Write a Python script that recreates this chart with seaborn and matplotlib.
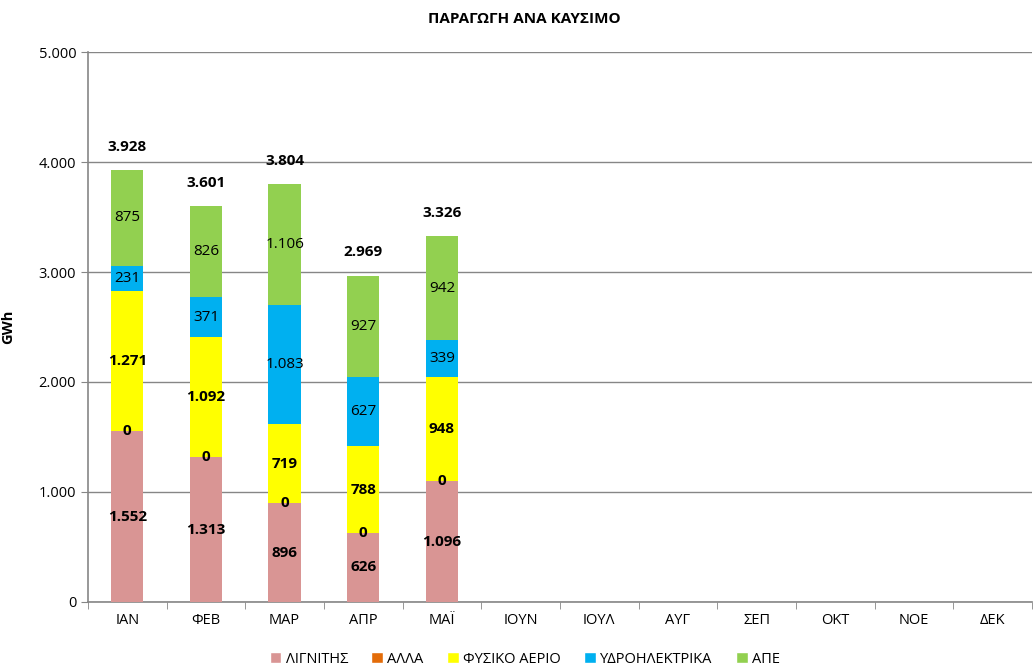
import numpy as np
import pandas as pd
import matplotlib
matplotlib.use('Agg')
import matplotlib.pyplot as plt
import seaborn as sns
from matplotlib.ticker import FuncFormatter, FixedLocator
from matplotlib.patches import Patch

# [1. 데이터]
months = ['ΙΑΝ', 'ΦΕΒ', 'ΜΑΡ', 'ΑΠΡ', 'ΜΑΪ', 'ΙΟΥΝ', 'ΙΟΥΛ', 'ΑΥΓ', 'ΣΕΠ', 'ΟΚΤ', 'ΝΟΕ', 'ΔΕΚ']
lignite = [1552, 1313, 896, 626, 1096]
other = [0, 0, 0, 0, 0]
gas = [1271, 1092, 719, 788, 948]
hydro = [231, 371, 1083, 627, 339]
res = [875, 826, 1106, 927, 942]
totals = [3928, 3601, 3804, 2969, 3326]

series_names = ['ΛΙΓΝΙΤΗΣ', 'ΑΛΛΑ', 'ΦΥΣΙΚΟ ΑΕΡΙΟ', 'ΥΔΡΟΗΛΕΚΤΡΙΚΑ', 'ΑΠΕ']
series_vals = [lignite, other, gas, hydro, res]
colors = ['#D99594', '#E36C09', '#FFFF00', '#00B0F0', '#92D050']
bold_labels = [True, True, True, False, False]

sns.set_style('white')
plt.rcParams['font.family'] = ['Open Sans', 'DejaVu Sans']
plt.rcParams['text.color'] = 'black'
plt.rcParams['axes.labelcolor'] = 'black'
plt.rcParams['xtick.labelcolor'] = 'black'
plt.rcParams['ytick.labelcolor'] = 'black'

fig = plt.figure(figsize=(10.35, 6.68), dpi=100)
ax = fig.add_axes([0.085, 0.099, 0.912, 0.823])

data_months = months[:len(lignite)]
vals = np.array(series_vals, dtype=float)
tops = vals.cumsum(axis=0)
bottoms = tops - vals

# 누적 막대: 위에서부터 덮어 그리기
for i in range(len(series_names) - 1, -1, -1):
    df = pd.DataFrame({'월': data_months, 'v': tops[i]})
    sns.barplot(data=df, x='월', y='v', order=months, color=colors[i],
                width=0.41, errorbar=None, saturation=1, linewidth=0,
                ax=ax, zorder=3)

# 값 라벨
for i, name in enumerate(series_names):
    for j in range(len(data_months)):
        yc = bottoms[i, j] + vals[i, j] / 2
        txt = f'{int(vals[i, j]):,}'.replace(',', '.')
        ax.text(j, yc, txt, ha='center', va='center', fontsize=11,
                fontweight='bold' if bold_labels[i] else 'normal', zorder=5)

for j, t in enumerate(totals):
    ax.text(j, t + 210, f'{t:,}'.replace(',', '.'), ha='center', va='center',
            fontsize=11, fontweight='bold', zorder=5)

ax.set_ylim(0, 5000)
ax.set_xlim(-0.5, len(months) - 0.5)
ax.set_yticks(range(0, 5001, 1000))
ax.yaxis.set_major_formatter(FuncFormatter(lambda v, p: f'{int(v):,}'.replace(',', '.')))
ax.grid(axis='y', color='#868686', linewidth=1, zorder=0)
ax.set_axisbelow(True)
ax.tick_params(axis='y', length=5, color='#868686', labelsize=10.5, direction='out', left=True)
ax.tick_params(axis='x', which='major', length=0, labelsize=10.5, pad=8)
ax.xaxis.set_minor_locator(FixedLocator(np.arange(-0.5, len(months), 1)))
ax.tick_params(axis='x', which='minor', length=5, color='#868686', direction='out', bottom=True)
for s in ['top', 'right']:
    ax.spines[s].set_visible(False)
for s in ['left', 'bottom']:
    ax.spines[s].set_color('#868686')
    ax.spines[s].set_linewidth(1.2)

ax.set_xlabel('')
ax.set_ylabel('GWh', fontsize=10.5, fontweight='bold')
ax.yaxis.set_label_coords(-0.077, 0.5)
fig.text(0.507, 0.972, 'ΠΑΡΑΓΩΓΗ ΑΝΑ ΚΑΥΣΙΜΟ', ha='center', va='center',
         fontsize=11, fontweight='bold')

handles = [Patch(facecolor=c, label=n) for c, n in zip(colors, series_names)]
fig.legend(handles=handles, loc='lower center', bbox_to_anchor=(0.507, -0.018), ncol=5,
           frameon=False, fontsize=10.5, handlelength=0.8, handleheight=0.8,
           handletextpad=0.3, columnspacing=1.6)

plt.savefig('out.png', dpi=100)
